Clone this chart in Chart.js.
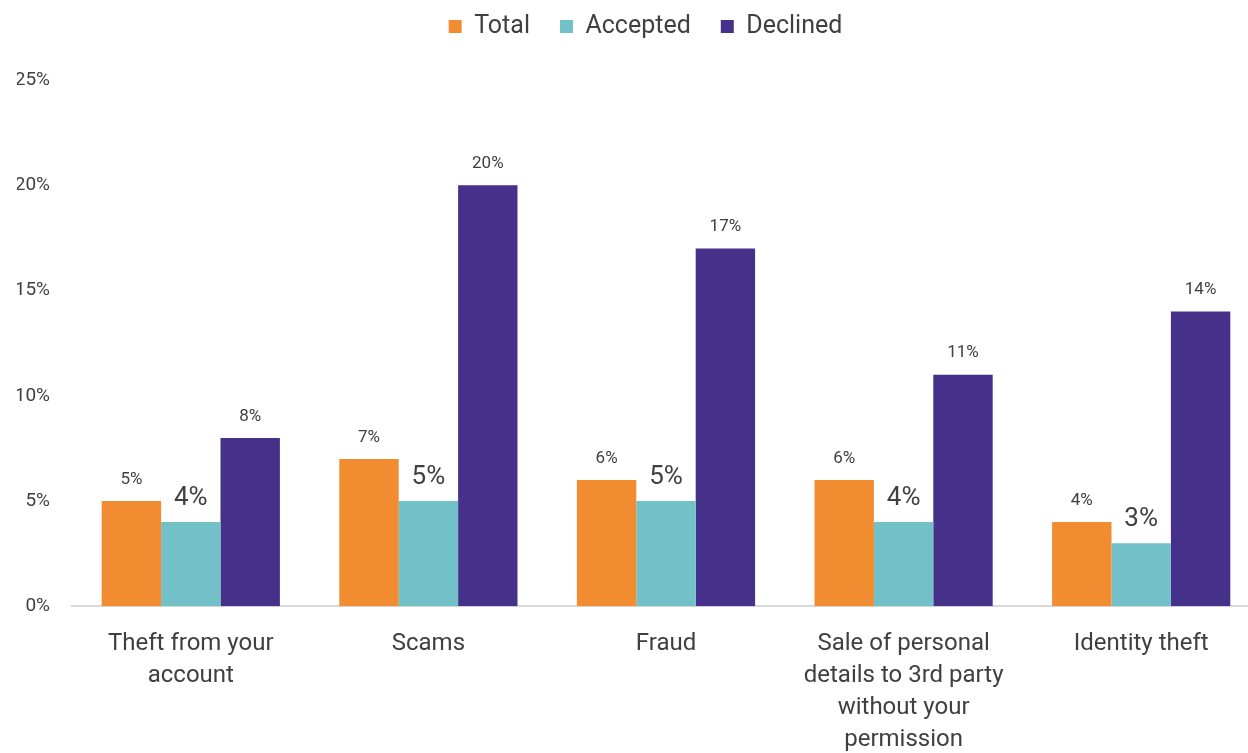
<!DOCTYPE html>
<html lang="en">
<head>
    <meta charset="UTF-8">
    <title>Reported issues by outcome</title>
    <style>
        body {
            margin: 0;
            background: #fff;
            overflow: hidden;
        }

        #chart-container {
            width: 1260px;
            height: 753px;
        }
    </style>
</head>
<body>
    <div id="chart-container">
        <canvas id="myChart"></canvas>
    </div>

    <script src="https://cdn.jsdelivr.net/npm/chart.js"></script>
    <script>
        // Chart data
        const categories = [
            ["Theft from your", "account"],
            "Scams",
            "Fraud",
            ["Sale of personal", "details to 3rd party", "without your", "permission"],
            "Identity theft"
        ];
        const totalValues = [5, 7, 6, 6, 4];
        const acceptedValues = [4, 5, 5, 4, 3];
        const declinedValues = [8, 20, 17, 11, 14];
        const yTicks = [0, 5, 10, 15, 20, 25];

        const textColor = "#404040";
        const fontFamily = "Roboto, 'Noto Sans', sans-serif";

        // Simple value labels above each bar
        const barLabels = {
            id: "barLabels",
            afterDatasetsDraw(chart) {
                const ctx = chart.ctx;
                ctx.save();
                ctx.fillStyle = textColor;
                ctx.textAlign = "center";
                ctx.textBaseline = "bottom";
                chart.data.datasets.forEach((ds, i) => {
                    const meta = chart.getDatasetMeta(i);
                    const big = ds.label === "Accepted";
                    ctx.font = (big ? "26px " : "17px ") + fontFamily;
                    meta.data.forEach((bar, j) => {
                        ctx.fillText(ds.data[j] + "%", bar.x, bar.y - (big ? 11 : 13));
                    });
                });
                ctx.restore();
            }
        };

        // Leave some extra room under the legend, nudge it a bit right
        const legendGap = {
            id: "legendGap",
            beforeInit(chart) {
                const legend = chart.legend;
                if (!legend) return;
                const fit = legend.fit;
                legend.fit = function () {
                    fit.call(this);
                    this.height += 31;
                };
            },
            afterLayout(chart) {
                if (!chart.legend) return;
                chart.legend.left += 7;
                chart.legend.right += 7;
            }
        };

        const ctx = document.getElementById("myChart").getContext("2d");
        new Chart(ctx, {
            type: "bar",
            data: {
                labels: categories,
                datasets: [
                    { label: "Total", data: totalValues, backgroundColor: "#F28C30" },
                    { label: "Accepted", data: acceptedValues, backgroundColor: "#72C0C8" },
                    { label: "Declined", data: declinedValues, backgroundColor: "#45318A" }
                ]
            },
            options: {
                responsive: true,
                maintainAspectRatio: false,
                animation: false,
                categoryPercentage: 0.75,
                barPercentage: 1,
                layout: {
                    autoPadding: false,
                    padding: { top: -16, left: 17, right: 0, bottom: -25 }
                },
                scales: {
                    x: {
                        grid: { display: false, drawTicks: false },
                        border: { color: "#d9d9d9", width: 2 },
                        ticks: {
                            color: textColor,
                            font: { family: fontFamily, size: 24, lineHeight: 1.33 },
                            padding: 22,
                            maxRotation: 0,
                            autoSkip: false
                        }
                    },
                    y: {
                        min: 0,
                        max: 25,
                        afterBuildTicks(axis) {
                            axis.ticks = yTicks.map(v => ({ value: v }));
                        },
                        afterFit(axis) {
                            axis.width = 55;
                        },
                        grid: { display: false, drawTicks: false },
                        border: { display: false },
                        ticks: {
                            color: textColor,
                            font: { family: fontFamily, size: 19 },
                            padding: 22,
                            callback: v => v + "%"
                        }
                    }
                },
                plugins: {
                    legend: {
                        position: "top",
                        labels: {
                            color: textColor,
                            font: { family: fontFamily, size: 25 },
                            boxWidth: 13,
                            boxHeight: 13,
                            padding: 30
                        }
                    },
                    tooltip: { enabled: false }
                }
            },
            plugins: [legendGap, barLabels]
        });
    </script>
</body>
</html>
